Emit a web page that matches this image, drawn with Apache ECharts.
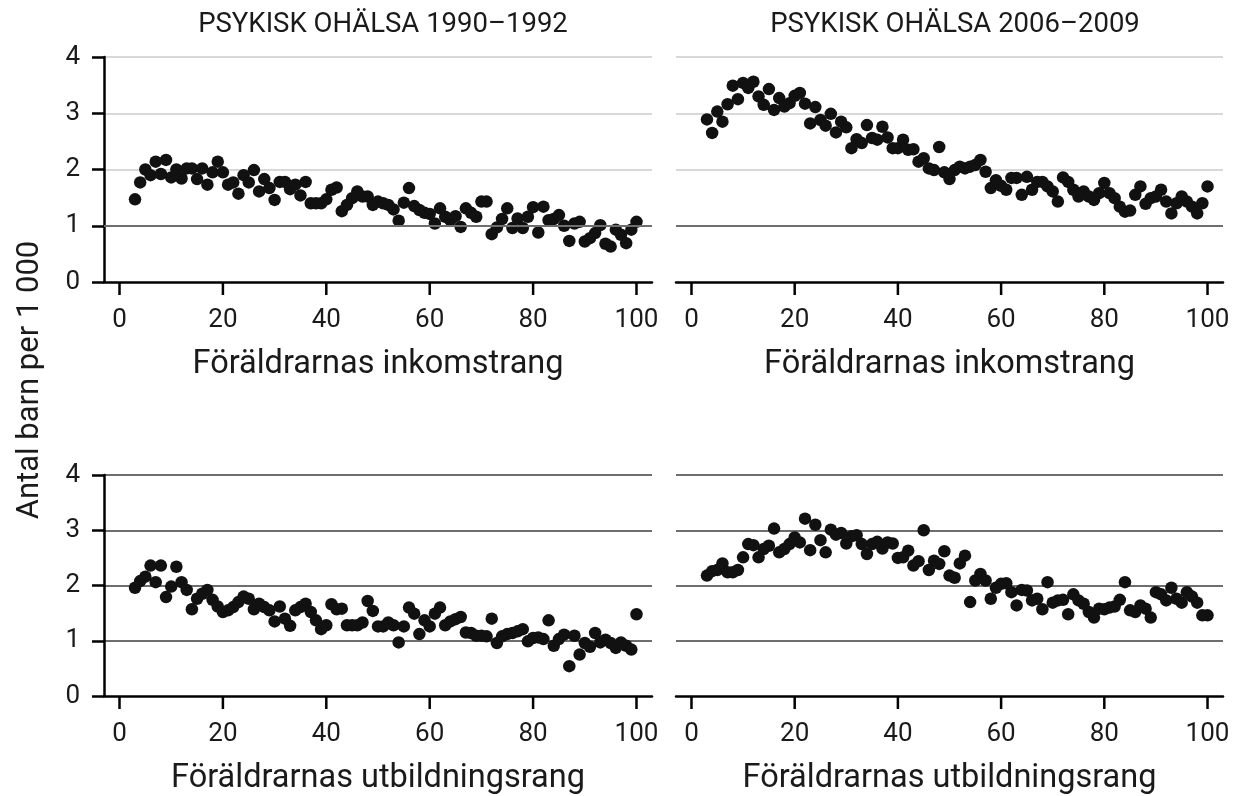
<!DOCTYPE html>
<html>
<head>
<meta charset="utf-8">
<script src="https://cdn.jsdelivr.net/npm/echarts@6/dist/echarts.min.js"></script>
<style>
  html, body { margin: 0; padding: 0; background: #fff; }
  #chart { width: 1235px; height: 796px; }
</style>
</head>
<body>
<div id="chart"></div>
<script>
// Föräldrarnas rang (percentil), samma för alla fyra paneler
const ranks = [3,4,5,6,7,8,9,10,11,12,13,14,15,16,17,18,19,20,21,22,23,24,25,26,27,28,29,30,
  31,32,33,34,35,36,37,38,39,40,41,42,43,44,45,46,47,48,49,50,51,52,53,54,55,56,57,58,59,60,
  61,62,63,64,65,66,67,68,69,70,71,72,73,74,75,76,77,78,79,80,81,82,83,84,85,86,87,88,89,90,
  91,92,93,94,95,96,97,98,99,100];

// Psykisk ohälsa 1990–1992, inkomstrang
const inkomst1990 = [1.47,1.77,2.00,1.90,2.14,1.92,2.17,1.86,2.00,1.84,
  2.02,2.02,1.83,2.02,1.73,1.95,2.14,1.95,1.73,1.77,
  1.57,1.90,1.77,1.99,1.61,1.83,1.67,1.46,1.78,1.78,
  1.65,1.73,1.54,1.78,1.40,1.40,1.40,1.47,1.64,1.68,
  1.26,1.37,1.49,1.61,1.52,1.52,1.37,1.43,1.40,1.37,
  1.29,1.09,1.41,1.67,1.35,1.28,1.23,1.21,1.04,1.31,
  1.16,1.10,1.17,0.98,1.31,1.23,1.16,1.43,1.43,0.85,
  0.97,1.12,1.31,0.96,1.13,0.96,1.16,1.33,0.88,1.34,
  1.10,1.12,1.19,1.00,0.73,1.04,1.07,0.72,0.78,0.87,
  1.01,0.68,0.63,0.93,0.84,0.69,0.93,1.07];

// Psykisk ohälsa 2006–2009, inkomstrang
const inkomst2006 = [2.89,2.65,3.03,2.85,3.16,3.49,3.25,3.54,3.45,3.56,
  3.30,3.15,3.43,3.06,3.27,3.12,3.18,3.31,3.36,3.17,
  2.82,3.11,2.88,2.78,2.99,2.66,2.85,2.75,2.38,2.54,
  2.47,2.79,2.56,2.53,2.76,2.57,2.38,2.38,2.53,2.35,
  2.36,2.14,2.20,2.02,1.99,2.40,1.95,1.83,1.99,2.05,
  2.02,2.05,2.08,2.17,1.96,1.67,1.81,1.71,1.64,1.85,
  1.85,1.55,1.87,1.64,1.78,1.78,1.70,1.61,1.43,1.86,
  1.78,1.64,1.52,1.61,1.52,1.46,1.58,1.76,1.58,1.49,
  1.34,1.25,1.27,1.55,1.70,1.39,1.49,1.52,1.64,1.43,
  1.22,1.40,1.52,1.43,1.34,1.22,1.40,1.70];

// Psykisk ohälsa 1990–1992, utbildningsrang
const utbildning1990 = [1.96,2.08,2.16,2.36,2.06,2.36,1.79,1.98,2.34,2.06,
  1.92,1.57,1.76,1.85,1.92,1.74,1.62,1.52,1.55,1.61,
  1.70,1.80,1.76,1.57,1.67,1.61,1.55,1.35,1.62,1.40,
  1.27,1.55,1.61,1.67,1.52,1.37,1.21,1.28,1.66,1.57,
  1.58,1.28,1.28,1.28,1.33,1.72,1.54,1.26,1.26,1.33,
  1.28,0.97,1.26,1.60,1.49,1.12,1.37,1.26,1.49,1.60,
  1.28,1.35,1.39,1.43,1.15,1.14,1.09,1.09,1.08,1.40,
  0.96,1.08,1.12,1.14,1.17,1.21,0.99,1.05,1.06,1.03,
  1.37,0.91,1.03,1.11,0.54,1.09,0.75,0.96,0.89,1.14,
  0.97,1.02,0.96,0.87,0.97,0.91,0.84,1.48];

// Psykisk ohälsa 2006–2009, utbildningsrang
const utbildning2006 = [2.18,2.26,2.28,2.40,2.24,2.24,2.28,2.51,2.75,2.73,
  2.51,2.66,2.72,3.03,2.60,2.66,2.75,2.87,2.78,3.21,
  2.64,3.10,2.82,2.60,3.01,2.92,2.95,2.76,2.89,2.91,
  2.75,2.57,2.75,2.79,2.67,2.78,2.76,2.50,2.51,2.63,
  2.36,2.44,3.00,2.28,2.45,2.39,2.62,2.18,2.14,2.40,
  2.54,1.70,2.09,2.21,2.09,1.76,1.96,2.03,2.04,1.88,
  1.64,1.92,1.91,1.73,1.76,1.57,2.06,1.69,1.73,1.74,
  1.48,1.84,1.73,1.67,1.52,1.42,1.58,1.57,1.60,1.62,
  1.74,2.06,1.55,1.52,1.64,1.58,1.42,1.88,1.84,1.73,
  1.96,1.76,1.69,1.88,1.80,1.69,1.46,1.46];

const xTicks = [0, 20, 40, 60, 80, 100];
const panelTitles = ['PSYKISK OHÄLSA 1990–1992', 'PSYKISK OHÄLSA 2006–2009'];
const xNames = ['Föräldrarnas inkomstrang', 'Föräldrarnas utbildningsrang'];
const yName = 'Antal barn per 1 000';

const FONT = 'Roboto';
const TXT = '#1a1a1a';

const chart = echarts.init(document.getElementById('chart'), null, { renderer: 'canvas' });

const zip = vals => ranks.map((r, i) => [r, vals[i]]);

const panels = [
  { grid: { left: 104, top: 57, width: 548, height: 225 }, left: true, top: true, vals: inkomst1990, xName: xNames[0] },
  { grid: { left: 676, top: 57, width: 547, height: 225 }, left: false, top: true, vals: inkomst2006, xName: xNames[0] },
  { grid: { left: 104, top: 475, width: 548, height: 224 }, left: true, top: false, vals: utbildning1990, xName: xNames[1] },
  { grid: { left: 676, top: 475, width: 547, height: 224 }, left: false, top: false, vals: utbildning2006, xName: xNames[1] }
];

const titleStyle = { fontFamily: FONT, fontSize: 27.5, fontWeight: 'normal', color: TXT };
const yNameText = {
  type: 'text', x: 30, y: 380, rotation: Math.PI / 2,
  style: { text: yName, font: '31px ' + FONT, fill: TXT, align: 'center', verticalAlign: 'middle' }
};

const option = {
  animation: false,
  backgroundColor: '#fff',
  textStyle: { fontFamily: FONT, color: TXT },
  title: [
    { text: panelTitles[0], left: 378, top: 6, textAlign: 'center', textStyle: titleStyle },
    { text: panelTitles[1], left: 950, top: 6, textAlign: 'center', textStyle: titleStyle }
  ],
  graphic: [yNameText],
  grid: panels.map(p => Object.assign({ containLabel: false }, p.grid)),
  xAxis: panels.map((p, i) => ({
    type: 'value', gridIndex: i, min: -3, max: 103,
    axisLine: { show: true, onZero: false, lineStyle: { color: '#000', width: 2.5 } },
    axisTick: { show: false },
    axisLabel: { show: true, customValues: xTicks, fontSize: 26, margin: 25, color: TXT, fontFamily: FONT },
    splitLine: { show: false },
    name: p.xName, nameLocation: 'middle', nameGap: 66,
    nameTextStyle: { fontSize: 32.5, color: TXT, fontFamily: FONT }
  })),
  yAxis: panels.map((p, i) => ({
    type: 'value', gridIndex: i, min: 0, max: 4, interval: 1,
    axisLine: { show: p.left, onZero: false, lineStyle: { color: '#000', width: 2.5 } },
    axisTick: { show: p.left, inside: false, length: 12, lineStyle: { color: '#000', width: 2.5 } },
    axisLabel: { show: p.left, fontSize: 26, margin: 24, color: TXT, fontFamily: FONT },
    splitLine: { show: true, showMinLine: false, lineStyle: { color: p.top ? '#d8d8d8' : '#6e6e6e', width: 2 } }
  })),
  series: panels.map((p, i) => ({
    type: 'scatter', xAxisIndex: i, yAxisIndex: i,
    symbolSize: 12.5,
    itemStyle: { color: '#111', opacity: 1 },
    data: zip(p.vals),
    markLine: p.top ? {
      silent: true, symbol: ['none', 'none'], label: { show: false },
      lineStyle: { color: '#6e6e6e', width: 2, type: 'solid' },
      data: [{ yAxis: 1 }]
    } : undefined
  }))
};

chart.setOption(option);

// tickmarkeringar under x-axeln, placerade via axelns skala
const tickLines = [];
panels.forEach((p, i) => {
  xTicks.forEach(t => {
    const pt = chart.convertToPixel({ gridIndex: i }, [t, 0]);
    if (!pt) return;
    tickLines.push({
      type: 'line', silent: true, z: 10,
      shape: { x1: pt[0], y1: pt[1], x2: pt[0], y2: pt[1] + 13 },
      style: { stroke: '#000', lineWidth: 2.5 }
    });
  });
});
chart.setOption({ graphic: [yNameText].concat(tickLines) });

window.addEventListener('resize', () => chart.resize());
</script>
</body>
</html>
